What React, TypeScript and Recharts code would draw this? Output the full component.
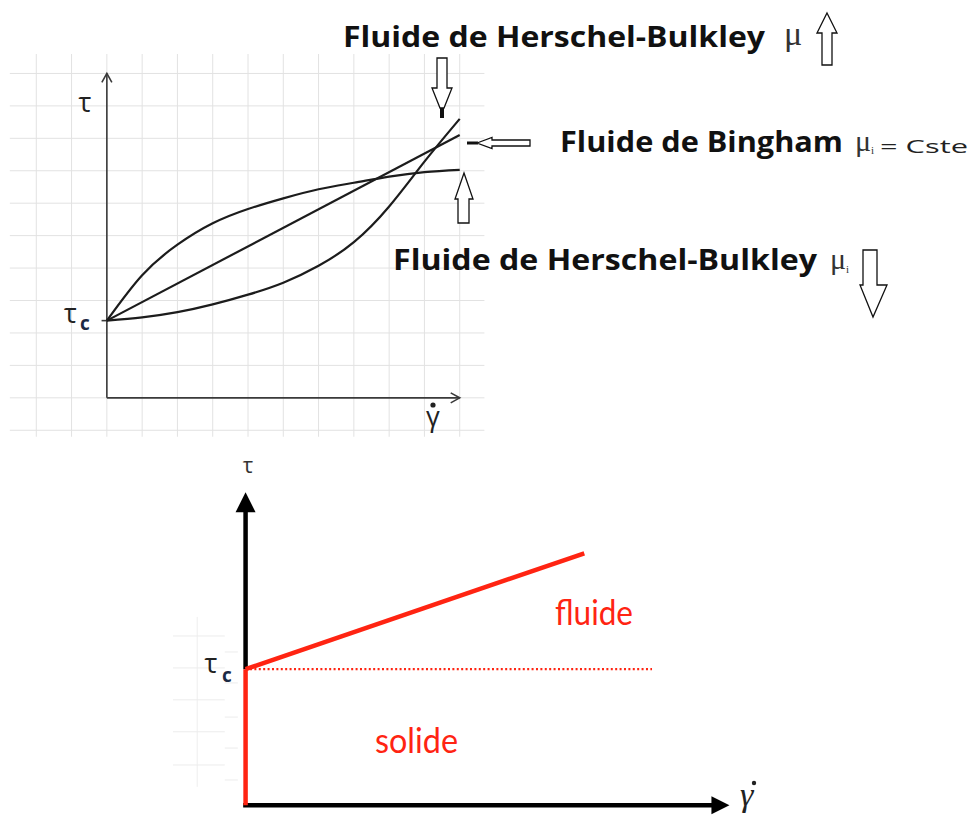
import React from 'react';
import { ComposedChart, Line, XAxis, YAxis, ReferenceLine } from 'recharts';

// ---------- Top chart (three rheograms) ----------
const shearRate = [0, 1, 2, 3, 4, 5, 6, 7, 8, 9, 10];
const hbShearThinning = [2.38, 3.78, 4.72, 5.38, 5.82, 6.15, 6.43, 6.63, 6.82, 6.96, 7.03];
const hbShearThickening = [2.38, 2.48, 2.64, 2.88, 3.18, 3.55, 4.07, 4.8, 5.9, 7.28, 8.6];
const binghamRate = [0, 10];
const binghamStress = [2.38, 8.1];
const topYieldStress = 2.38;
const topAxisMax = 10;
const topGridX = [-2, -1, 0, 1, 2, 3, 4, 5, 6, 7, 8, 9, 10];
const topGridY = [-1, 0, 1, 2, 3, 4, 5, 6, 7, 8, 9, 10];

// ---------- Bottom chart (Bingham: solid / fluid) ----------
const bottomYieldStress = 4.35;
const fluidRate = [0, 7];
const fluidStress = [4.35, 8.05];
const solidRate = [0, 0];
const solidStress = [0, 4.35];
const thresholdRate = [0, 8.4];
const thresholdStress = [4.35, 4.35];
const bottomAxisMax = 10;
const faintLongY = [5.41, 4.39, 3.37, 2.35, 1.29];
const faintShortY = [4.9, 3.91, 2.82, 1.83, 0.81];

const toPoints = (xs: number[], ys: number[]) => xs.map((x, i) => ({ x, y: ys[i] }));

const topThinning = toPoints(shearRate, hbShearThinning);
const topThickening = toPoints(shearRate, hbShearThickening);
const topBingham = toPoints(binghamRate, binghamStress);
const fluidLine = toPoints(fluidRate, fluidStress);
const solidLine = toPoints(solidRate, solidStress);
const thresholdLine = toPoints(thresholdRate, thresholdStress);

const arrowShape = (color: string, width: number, headLen: number, headW: number, filled: boolean) => (p: any) => {
  const { x1, y1, x2, y2 } = p;
  const dx = x2 - x1;
  const dy = y2 - y1;
  const len = Math.hypot(dx, dy) || 1;
  const ux = dx / len;
  const uy = dy / len;
  const nx = -uy;
  const ny = ux;
  const bx = x2 - ux * headLen;
  const by = y2 - uy * headLen;
  const pts = `${bx + nx * headW},${by + ny * headW} ${x2},${y2} ${bx - nx * headW},${by - ny * headW}`;
  return (
    <g>
      <line
        x1={x1}
        y1={y1}
        x2={filled ? bx + ux * 2 : x2}
        y2={filled ? by + uy * 2 : y2}
        stroke={color}
        strokeWidth={width}
      />
      {filled ? (
        <polygon points={pts} fill={color} />
      ) : (
        <polyline points={pts} fill="none" stroke={color} strokeWidth={width} strokeLinejoin="miter" />
      )}
    </g>
  );
};

const RED = '#ff2412';
const BOLD_FONT = "'Open Sans', 'DejaVu Sans', sans-serif";
const SERIF = "'Liberation Serif', 'DejaVu Serif', serif";
const HUMANIST = "Lato, 'Open Sans', sans-serif";

const BlockArrow = ({ points }: { points: string }) => (
  <polygon points={points} fill="#fff" stroke="#111" strokeWidth={1.3} strokeLinejoin="miter" />
);

export default function App() {
  return (
    <div style={{ position: 'absolute', left: 0, top: 0, width: 972, height: 819, background: '#fff', overflow: 'hidden' }}>
      {/* Top chart */}
      <div style={{ position: 'absolute', left: 1, top: 41 }}>
        <ComposedChart width={494} height={399} margin={{ top: 0, right: 0, bottom: 0, left: 0 }}>
          <XAxis type="number" dataKey="x" domain={[-3, 11]} hide allowDataOverflow />
          <YAxis type="number" dataKey="y" domain={[-1.3, 11]} hide allowDataOverflow />
          {topGridX.map((v) => (
            <ReferenceLine
              key={`gx${v}`}
              segment={[{ x: v, y: -1.2 }, { x: v, y: 10.6 }]}
              stroke="#e2e2e2"
              strokeWidth={1}
            />
          ))}
          {topGridY.map((v) => (
            <ReferenceLine
              key={`gy${v}`}
              segment={[{ x: -2.75, y: v }, { x: 10.7, y: v }]}
              stroke="#e2e2e2"
              strokeWidth={1}
            />
          ))}
          <ReferenceLine
            segment={[{ x: 0, y: 0 }, { x: 0, y: topAxisMax }]}
            shape={arrowShape('#3a3a3a', 1.6, 9, 5, false)}
          />
          <ReferenceLine
            segment={[{ x: 0, y: 0 }, { x: topAxisMax, y: 0 }]}
            shape={arrowShape('#3a3a3a', 1.6, 9, 5, false)}
          />
          <ReferenceLine
            segment={[{ x: -0.15, y: topYieldStress }, { x: 0, y: topYieldStress }]}
            stroke="#3a3a3a"
            strokeWidth={1.6}
          />
          <Line data={topThinning} dataKey="y" type="natural" stroke="#1c1c1c" strokeWidth={2.2} dot={false} isAnimationActive={false} />
          <Line data={topBingham} dataKey="y" type="linear" stroke="#1c1c1c" strokeWidth={2.2} dot={false} isAnimationActive={false} />
          <Line data={topThickening} dataKey="y" type="natural" stroke="#1c1c1c" strokeWidth={2.2} dot={false} isAnimationActive={false} />
        </ComposedChart>
      </div>

      {/* Bottom chart */}
      <div style={{ position: 'absolute', left: 173, top: 461 }}>
        <ComposedChart width={629} height={360} margin={{ top: 0, right: 0, bottom: 0, left: 0 }}>
          <XAxis type="number" dataKey="x" domain={[-1.5, 11.5]} hide allowDataOverflow />
          <YAxis type="number" dataKey="y" domain={[-0.5, 11]} hide allowDataOverflow />
          <ReferenceLine segment={[{ x: -1, y: 0.59 }, { x: -1, y: 6.02 }]} stroke="#eeeeee" strokeWidth={1} />
          {faintLongY.map((v) => (
            <ReferenceLine key={`fl${v}`} segment={[{ x: -1.5, y: v }, { x: -0.43, y: v }]} stroke="#ececec" strokeWidth={1} />
          ))}
          {faintShortY.map((v) => (
            <ReferenceLine key={`fs${v}`} segment={[{ x: -0.43, y: v }, { x: -0.16, y: v }]} stroke="#ececec" strokeWidth={1} />
          ))}
          <ReferenceLine
            segment={[{ x: 0, y: bottomYieldStress }, { x: 0, y: bottomAxisMax }]}
            shape={arrowShape('#000', 4.5, 20, 10, true)}
          />
          <ReferenceLine
            segment={[{ x: -0.05, y: 0 }, { x: bottomAxisMax, y: 0 }]}
            shape={arrowShape('#000', 4.5, 18, 9, true)}
          />
          <Line data={thresholdLine} dataKey="y" type="linear" stroke={RED} strokeWidth={2.2} strokeDasharray="2 2.4" dot={false} isAnimationActive={false} />
          <Line data={solidLine} dataKey="y" type="linear" stroke={RED} strokeWidth={4.5} dot={false} isAnimationActive={false} />
          <Line data={fluidLine} dataKey="y" type="linear" stroke={RED} strokeWidth={4.5} dot={false} isAnimationActive={false} />
        </ComposedChart>
      </div>

      {/* Labels and annotation arrows */}
      <svg width={972} height={819} style={{ position: 'absolute', left: 0, top: 0, pointerEvents: 'none' }}>
        {/* top chart axis labels */}
        <text x={85} y={112} fontSize={27} fontFamily={BOLD_FONT} fill="#222" textAnchor="middle">τ</text>
        <text x={70.5} y={323} fontSize={27} fontFamily={BOLD_FONT} fill="#222" textAnchor="middle">τ</text>
        <text x={85} y={330} fontSize={19} fontFamily={BOLD_FONT} fontWeight="bold" fill="#1c2a44" textAnchor="middle">c</text>
        <text x={433} y={426} fontSize={27} fontFamily={BOLD_FONT} fill="#222" textAnchor="middle">γ</text>
        <circle cx={433} cy={405} r={2.6} fill="#222" />

        {/* titles */}
        <text x={343} y={47} fontSize={29} fontWeight="bold" fontFamily={BOLD_FONT} fill="#111" textLength={422} lengthAdjust="spacingAndGlyphs">Fluide de Herschel-Bulkley</text>
        <text x={784} y={45} fontSize={34} fontFamily={SERIF} fill="#333">μ</text>
        <BlockArrow points="827,13 837,33 832,33 832,65 822,65 822,33 817,33" />
        <BlockArrow points="437,58 447,58 447,88 452,88 444,108 440,108 432,88 437,88" />
        <rect x={440} y={108} width={4} height={10} fill="#111" />

        <text x={560} y={152} fontSize={29} fontWeight="bold" fontFamily={BOLD_FONT} fill="#111" textLength={283} lengthAdjust="spacingAndGlyphs">Fluide de Bingham</text>
        <text x={855} y={151} fontSize={30} fontFamily={SERIF} fill="#333">μ</text>
        <text x={871} y={154} fontSize={11} fontFamily={SERIF} fill="#333">i</text>
        <text x={880} y={153} fontSize={18} fontFamily={BOLD_FONT} fill="#222" textLength={88} lengthAdjust="spacingAndGlyphs">= Cste</text>
        <line x1={467} y1={143} x2={478} y2={143} stroke="#111" strokeWidth={3} />
        <BlockArrow points="477,143 492,137.5 492,140 530,140 530,146 492,146 492,148.5" />

        <BlockArrow points="464,173 473,199 469,199 469,223 458,223 458,199 455,199" />
        <text x={393} y={270} fontSize={29} fontWeight="bold" fontFamily={BOLD_FONT} fill="#111" textLength={424} lengthAdjust="spacingAndGlyphs">Fluide de Herschel-Bulkley</text>
        <text x={830} y={269} fontSize={30} fontFamily={SERIF} fill="#333">μ</text>
        <text x={846} y={273} fontSize={11} fontFamily={SERIF} fill="#333">i</text>
        <BlockArrow points="863,250 877,250 877,285 887,285 873,317 860,285 863,285" />

        {/* bottom chart labels */}
        <text x={248} y={473} fontSize={22} fontFamily={BOLD_FONT} fill="#333" textAnchor="middle">τ</text>
        <text x={211} y={673} fontSize={27} fontFamily={BOLD_FONT} fill="#222" textAnchor="middle">τ</text>
        <text x={227} y={682} fontSize={19} fontFamily={BOLD_FONT} fontWeight="bold" fill="#1c2a44" textAnchor="middle">c</text>
        <text x={740} y={806} fontSize={34} fontFamily={SERIF} fontStyle="italic" fill="#222">γ</text>
        <circle cx={754} cy={783} r={2.2} fill="#222" />
        <text x={555} y={625} fontSize={34} fontFamily={HUMANIST} fill={RED} textLength={78} lengthAdjust="spacingAndGlyphs">fluide</text>
        <text x={375} y={753} fontSize={34} fontFamily={HUMANIST} fill={RED} textLength={83} lengthAdjust="spacingAndGlyphs">solide</text>
      </svg>
    </div>
  );
}
